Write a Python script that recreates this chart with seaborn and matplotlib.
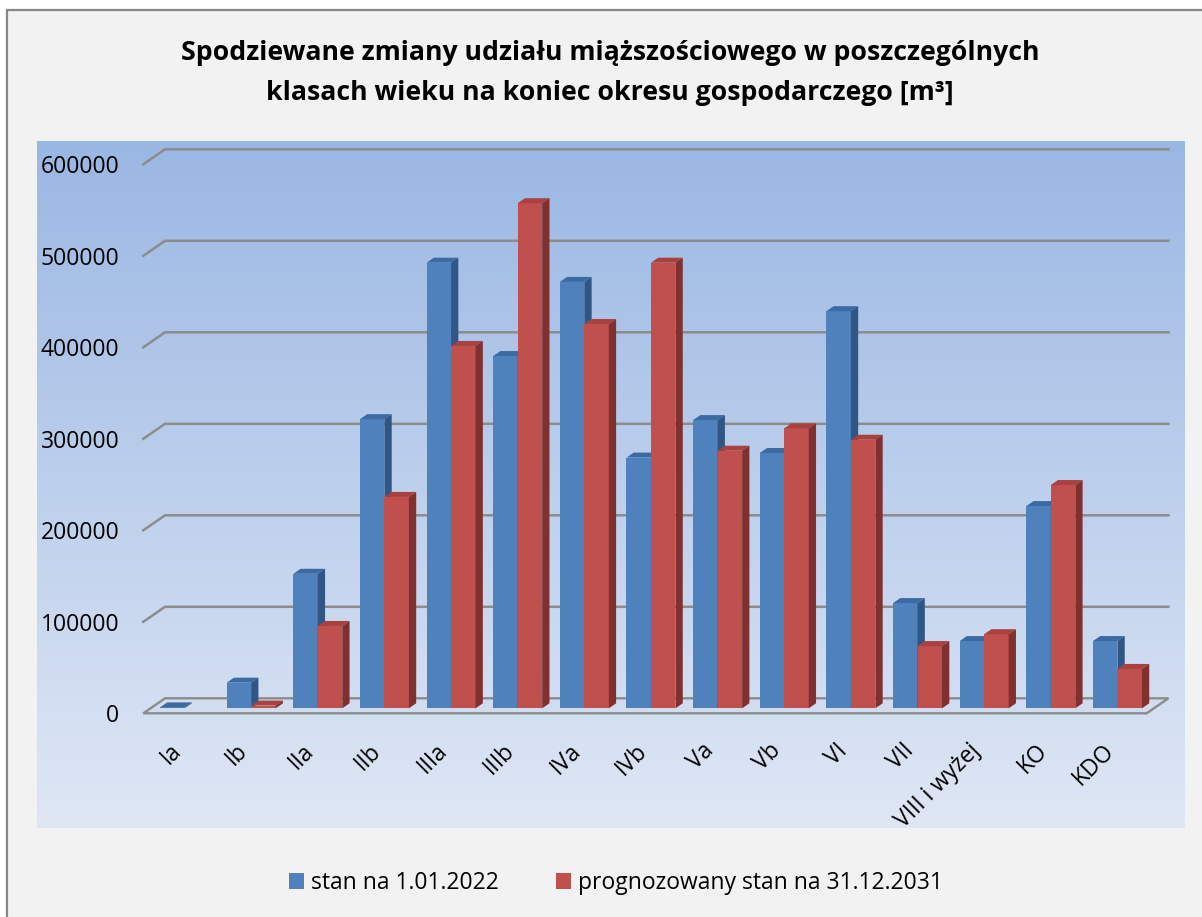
import numpy as np
import pandas as pd
import matplotlib.pyplot as plt
import matplotlib.transforms as mtransforms
from matplotlib.patches import Polygon, Rectangle
import seaborn as sns

# age classes and volume [m3]
klasy = ['Ia', 'Ib', 'IIa', 'IIb', 'IIIa', 'IIIb', 'IVa', 'IVb', 'Va', 'Vb',
         'VI', 'VII', 'VIII i wyżej', 'KO', 'KDO']
stan_2022 = [1000, 28000, 147000, 316000, 487000, 385000, 466000, 274000,
             315000, 279000, 434000, 115000, 73500, 221000, 73500]
prognoza_2031 = [0, 3000, 90000, 231000, 396000, 552000, 420000, 487000,
                 281500, 306000, 293500, 68000, 81000, 244000, 43000]
serie = ['stan na 1.01.2022', 'prognozowany stan na 31.12.2031']
yticks = [0, 100000, 200000, 300000, 400000, 500000, 600000]

df = pd.DataFrame({
    'klasa': klasy * 2,
    'miazszosc': stan_2022 + prognoza_2031,
    'seria': [serie[0]] * len(klasy) + [serie[1]] * len(klasy),
})

plt.rcParams['font.family'] = ['Open Sans', 'DejaVu Sans']

W, H = 1202, 917
fig = plt.figure(figsize=(W / 100, H / 100), dpi=100)
fig.patch.set_facecolor('white')
fig.patches.append(Rectangle((7 / W, -0.02), 1.1, 1.02 - 10 / H, transform=fig.transFigure,
                             facecolor='#f2f2f2', edgecolor='#878787', lw=1.6, zorder=-10))

# gradient plot area
bg = fig.add_axes([37 / W, (H - 828) / H, 1148 / W, 687 / H])
top_c = np.array([0x9a, 0xb7, 0xe3]) / 255
bot_c = np.array([0xdf, 0xe7, 0xf5]) / 255
t = np.linspace(0, 1, 256)[:, None]
grad = (top_c * (1 - t) + bot_c * t)[:, None, :]
bg.imshow(grad, aspect='auto', extent=[0, 1, 0, 1])
bg.axis('off')

ax = fig.add_axes([150.5 / W, (H - 708.3) / H, 1003.4 / W, 549 / H])
ax.patch.set_alpha(0)

blue, red = '#4f81bd', '#c0504d'
sns.barplot(data=df, x='klasa', y='miazszosc', hue='seria', order=klasy, hue_order=serie,
            palette=[blue, red], width=0.735, saturation=1, errorbar=None, ax=ax)
handles, labels = ax.get_legend_handles_labels()
ax.get_legend().remove()

xl, xr = -0.51, 14.547
ax.set_xlim(xl, xr)
ax.set_ylim(0, 600000)
for s in ax.spines.values():
    s.set_visible(False)
ax.set_xlabel('')
ax.set_ylabel('')

# pixel -> data conversion for the 3d look
p0 = ax.transData.transform((0, 0))
p1 = ax.transData.transform((1, 100000))
sx = p1[0] - p0[0]
sy = (p1[1] - p0[1]) / 100000

def px(dx, dy):
    return dx / sx, dy / sy

fdx, fdy = px(-7.2, -5)
bdx, bdy = px(14.5, 10)
cdx, cdy = px(7.3, 5)
grid_c = '#8c8c8c'

floor = Polygon([(xl + fdx, fdy), (xr + fdx, fdy), (xr + bdx, bdy), (xl + bdx, bdy)],
                closed=True, facecolor='#d2dcef', edgecolor=grid_c, lw=1.7,
                zorder=0.9, clip_on=False)
ax.add_patch(floor)
for v in yticks[1:]:
    ax.plot([xl + fdx, xl + bdx, xr + bdx], [v + fdy, v + bdy, v + bdy], color=grid_c,
            lw=1.8, zorder=1, clip_on=False, solid_joinstyle='miter')

shades = [('#3c6aa3', '#2f5684'), ('#a8413f', '#80302e')]
for k, cont in enumerate(ax.containers):
    cap_c, side_c = shades[k]
    for bar in cont:
        bar.set_zorder(3 + k * 0.2)
        bar.set_linewidth(0)
        x0, w, h = bar.get_x(), bar.get_width(), bar.get_height()
        if h <= 0:
            continue
        cap = Polygon([(x0, h), (x0 + w, h), (x0 + w + cdx, h + cdy), (x0 + cdx, h + cdy)],
                      closed=True, facecolor=cap_c, lw=0, zorder=3.1 + k * 0.2, clip_on=False)
        side = Polygon([(x0 + w, 0), (x0 + w, h), (x0 + w + cdx, h + cdy), (x0 + w + cdx, cdy)],
                       closed=True, facecolor=side_c, lw=0, zorder=3.1 + k * 0.2, clip_on=False)
        ax.add_patch(cap)
        ax.add_patch(side)

ax.set_yticks(yticks)
ax.set_yticklabels([str(v) for v in yticks])
ax.tick_params(axis='y', length=0, pad=17.3, labelsize=16.5, labelcolor='black')
ax.tick_params(axis='x', length=0, pad=28.2, labelsize=16.5, labelcolor='black')
ax.set_xticks(range(len(klasy)))
ax.set_xticklabels(klasy, rotation=45, ha='right', va='center', rotation_mode='anchor')

y_off = mtransforms.ScaledTranslation(-0.072, -0.05, fig.dpi_scale_trans)
for lab in ax.get_yticklabels():
    lab.set_transform(lab.get_transform() + y_off)
x_off = mtransforms.ScaledTranslation(-0.07, 0, fig.dpi_scale_trans)
for lab in ax.get_xticklabels():
    lab.set_transform(lab.get_transform() + x_off)

fig.text(610 / W, (H - 60) / H, 'Spodziewane zmiany udziału miąższościowego w poszczególnych',
         ha='center', va='baseline', fontsize=19.2, fontweight='bold')
fig.text(610 / W, (H - 100) / H, 'klasach wieku na koniec okresu gospodarczego [m³]',
         ha='center', va='baseline', fontsize=19.2, fontweight='bold')

fig.legend(handles, labels, loc='center', bbox_to_anchor=(616 / W, (H - 883) / H), ncol=2,
           frameon=False, fontsize=16.5, handlelength=0.65, handleheight=0.65,
           handletextpad=0.3, columnspacing=2.5, borderpad=0)

fig.savefig('out.png', dpi=100)
